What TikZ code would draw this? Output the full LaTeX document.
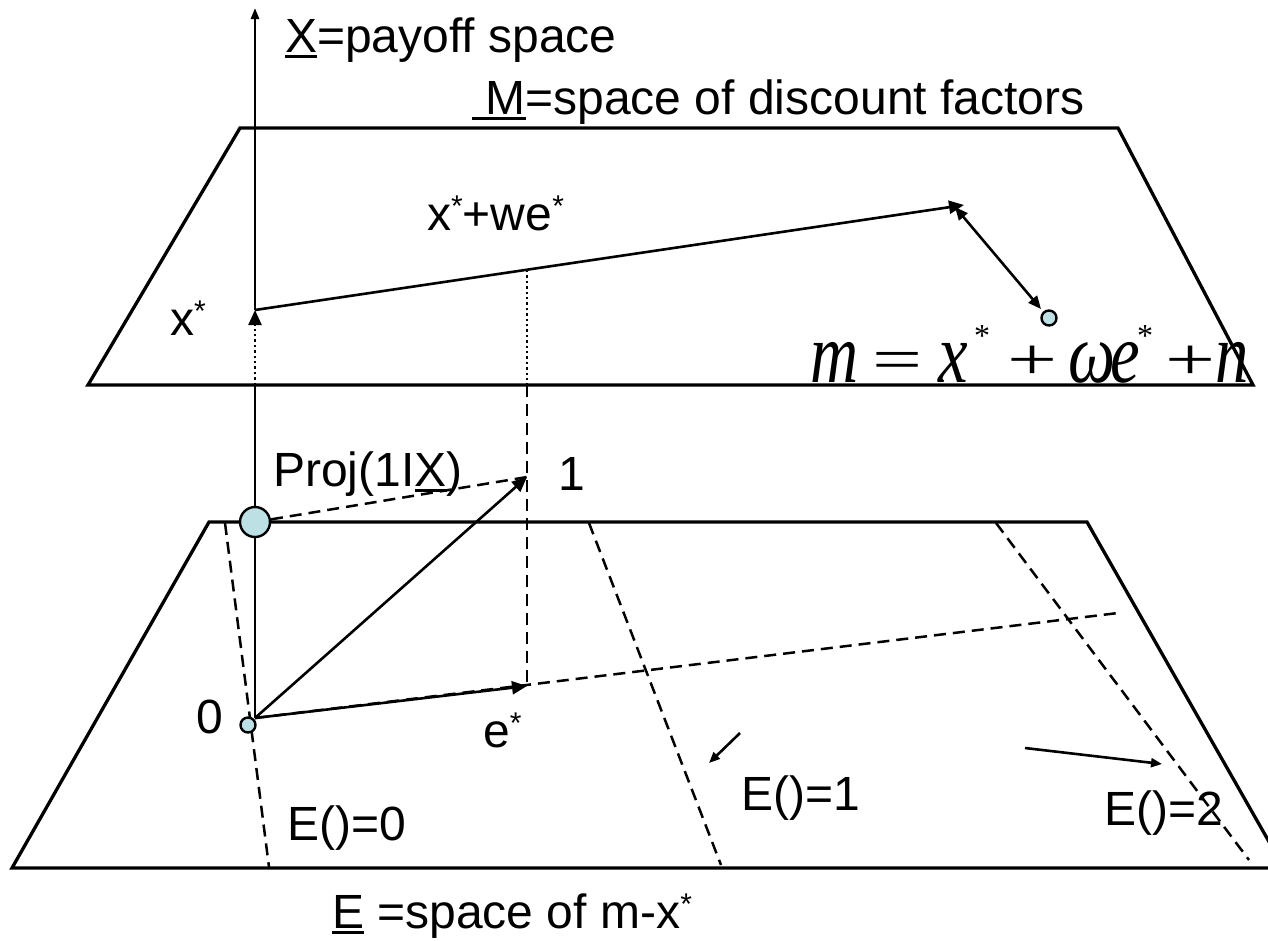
\documentclass[tikz,border=0pt]{standalone}
\usepackage{fontspec}
\usepackage{graphicx}
\setmainfont{Liberation Sans}
\newfontfamily\eqfont{Liberation Serif}
\usetikzlibrary{arrows.meta}
\definecolor{ptfill}{RGB}{188,224,228}
\newcommand\myul[1]{\setbox0\hbox{#1}\rlap{\rule[-6pt]{\wd0}{2.8pt}}\box0}
\newcommand\sst{\raisebox{14pt}{\fontsize{30}{30}\selectfont *}}
\newcommand\eqL[1]{\scalebox{0.9}[1.15]{\itshape #1}}
\newcommand\eqO[1]{\raisebox{3pt}{\scalebox{1.2}[0.8]{#1}}}
\newcommand\eqS{\raisebox{36pt}{\fontsize{32}{32}\selectfont *}}
\begin{document}
\begin{tikzpicture}[x=1pt,y=-1pt,
  plane/.style={line width=3.3pt, line join=miter},
  vec/.style={line width=2.6pt},
  tip/.style={-{Triangle[length=15pt,width=13pt]}},
  smalltip/.style={-{Triangle[length=11pt,width=9pt]}},
  dsh/.style={line width=2.5pt, dash pattern=on 12pt off 7pt},
  dot/.style={line width=2.4pt, dash pattern=on 2.4pt off 3pt},
  pt/.style={circle, draw, line width=2.4pt, fill=ptfill, inner sep=0pt},
  lbl/.style={anchor=base west, inner sep=0pt, font=\fontsize{48}{58}\selectfont}
]
\useasboundingbox (0,0) rectangle (1268,940);
\clip (0,0) rectangle (1268,940);
\fill[white] (0,0) rectangle (1268,940);

% planes
\draw[plane] (240,128) -- (1118,128) -- (1253,385) -- (88,385) -- cycle;
\draw[plane] (209,522) -- (1087,522) -- (1284,868) -- (12,868) -- cycle;

% key points
\coordinate (O) at (255,718);
\coordinate (ub) at (255,385);
\coordinate (xs) at (255,310);
\coordinate (axtop) at (255,8);
\coordinate (xw) at (964,205);
\coordinate (xwmid) at (527,270);
\coordinate (xwfoot) at (527,385);
\coordinate (one) at (527,477);
\coordinate (es) at (527,686);
\coordinate (eend) at (1118,613);
\coordinate (e0a) at (225,523);
\coordinate (e0b) at (269,867);
\coordinate (e1a) at (589,523);
\coordinate (e1b) at (721,865);
\coordinate (e2a) at (996,523);
\coordinate (e2b) at (1249,860);
\coordinate (dA) at (955,207);
\coordinate (dB) at (1041,309);
\coordinate (s1a) at (740,733);
\coordinate (s1b) at (709,763);
\coordinate (s2a) at (1025,748);
\coordinate (s2b) at (1162,764);

% upper plane connectors
\draw[vec,-{Triangle[length=11pt,width=8pt]}] (xs) -- (axtop);
\draw[vec,tip] (xs) -- (xw);
\draw[vec,{Triangle[length=13pt,width=11pt]}-{Triangle[length=13pt,width=11pt]}] (dA) -- (dB);
\draw[dot] (xwmid) -- (xwfoot);
\draw[dot,tip] (ub) -- (xs);

% lower plane
\draw[dsh] (e0a) -- (e0b);
\draw[dsh] (e1a) -- (e1b);
\draw[dsh] (e2a) -- (e2b);
\draw[dsh] (O) -- (eend);
\draw[dsh] (xwfoot) -- (es);
\draw[vec] (O) -- (ub);
\draw[vec,tip] (O) -- (one);
\draw[vec,tip] (O) -- (es);
\draw[vec,smalltip] (s1a) -- (s1b);
\draw[vec,smalltip] (s2a) -- (s2b);

% points
\node[pt, minimum size=30pt] (proj) at (255,522) {};
\draw[dsh] (proj) -- (one);
\node[pt, minimum size=15pt] (zero) at (248,725) {};
\node[pt, minimum size=15pt] (mpt) at (1049,318) {};

% labels
\node[lbl] (tX) at (285,52) {\myul{X}=payoff space};
\node[lbl] (tM) at (472,114) {\myul{\ M}=space of discount factors};
\node[lbl] (txs) at (170,335) {x\sst};
\node[lbl] (txw) at (427,230) {x\sst+we\sst};
\node[lbl] (tproj) at (273,486) {Proj(1I\myul{X})};
\node[lbl] (tone) at (558,490) {1};
\node[lbl] (tzero) at (196,733) {0};
\node[lbl] (tes) at (483,747) {e\sst};
\node[lbl] (tE0) at (287,840) {E()=0};
\node[lbl] (tE1) at (741,810) {E()=1};
\node[lbl] (tE2) at (1104,825) {E()=2};
\node[lbl] (tE) at (332,928) {\myul{E}\ =space of m-x\sst};
\node[anchor=base west, inner sep=0pt, font=\eqfont\fontsize{74}{80}\selectfont] (eq) at (810,382)
 {\makebox[62pt][l]{\eqL{m}}\makebox[66pt][l]{\eqO{=}}\makebox[36pt][l]{\eqL{x}}\makebox[33pt][l]{\eqS}\makebox[61pt][l]{\eqO{+}}\makebox[42pt][l]{\eqL{ω}}\makebox[27pt][l]{\eqL{e}}\makebox[28pt][l]{\eqS}\makebox[50pt][l]{\eqO{+}}\eqL{n}};
\end{tikzpicture}
\end{document}
